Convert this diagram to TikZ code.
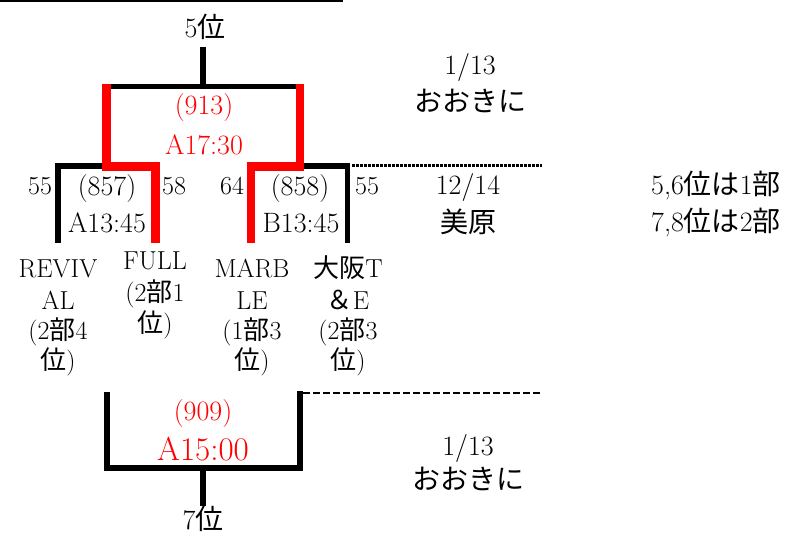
\documentclass[tikz,border=0pt]{standalone}
\usepackage{fontspec}
\newfontfamily\jpf{Noto Sans CJK JP}
\newcommand\jp[1]{{\jpf #1}}
\definecolor{bred}{RGB}{255,0,0}
\tikzset{
  txt/.style={inner sep=0pt, anchor=base, font=\fontsize{28}{30}\selectfont},
  small/.style={txt, font=\fontsize{26}{28}\selectfont},
  team/.style={txt, font=\fontsize{26}{28}\selectfont},
  redtxt/.style={txt, text=bred, font=\fontsize{28}{30}\selectfont},
  bline/.style={line width=5.5pt, black, line join=miter},
  rline/.style={line width=8.5pt, bred, line join=miter},
  dotline/.style={line width=3pt, dash pattern=on 2.5pt off 1.5pt},
  dashline/.style={line width=2.5pt, dash pattern=on 7pt off 3pt}
}
\begin{document}
\begin{tikzpicture}[x=1pt,y=-1pt]
\useasboundingbox (0,0) rectangle (800,534);
% top rule
\coordinate (r0) at (0,1);
\coordinate (r1) at (343,1);
\draw[line width=2pt] (r0) -- (r1);

% coordinates of the bracket
\coordinate (s1) at (203,47);
\coordinate (s2) at (203,87);
\coordinate (tl) at (106.5,86.5);
\coordinate (tr) at (300,86.5);
\coordinate (lbot) at (58,243);
\coordinate (lcor) at (58,166);
\coordinate (lmid) at (104,166);
\coordinate (rmid) at (302,166);
\coordinate (rcor) at (347.5,166);
\coordinate (rbot) at (347.5,243);

\draw[bline] (s1) -- (s2);
\draw[bline] (tl) -- (tr);
\draw[bline] (lbot) -- (lcor) -- (lmid);
\draw[bline] (rmid) -- (rcor) -- (rbot);

% red winner paths
\coordinate (ra1) at (106.7,84);
\coordinate (ra2) at (106.7,166.3);
\coordinate (ra3) at (155.5,166.3);
\coordinate (ra4) at (155.5,243);
\coordinate (rb1) at (300,84);
\coordinate (rb2) at (300,166.3);
\coordinate (rb3) at (251,166.3);
\coordinate (rb4) at (251,243);
\draw[rline] (ra1) -- (ra2) -- (ra3) -- (ra4);
\draw[rline] (rb1) -- (rb2) -- (rb3) -- (rb4);

% dotted line
\coordinate (d1) at (352,166);
\coordinate (d2) at (542,166);
\draw[dotline] (d1) -- (d2);

% bottom bracket
\coordinate (b1) at (107,392);
\coordinate (b2) at (107,468);
\coordinate (b3) at (300,468);
\coordinate (b4) at (300,391);
\coordinate (bs1) at (203,468);
\coordinate (bs2) at (203,506);
\draw[bline] (b1) -- (b2) -- (b3) -- (b4);
\draw[bline] (bs1) -- (bs2);
\coordinate (e1) at (303,393);
\coordinate (e2) at (542,393);
\draw[dashline] (e1) -- (e2);

% texts
\node[txt] (p5) at (205,38) {5\jp{位}};
\node[redtxt] (m913) at (204,115) {(913)};
\node[redtxt] (t913) at (204,155) {A17:30};
\node[txt] (d1a) at (470,75) {1/13};
\node[txt] (d1b) at (470,112) {\jp{おおきに}};

\node[small] (s55a) at (40,195) {55};
\node[txt] (m857) at (107,196) {(857)};
\node[small] (s58) at (174,195) {58};
\node[txt] (t857) at (107,233) {A13:45};
\node[small] (s64) at (232,195) {64};
\node[txt] (m858) at (300,196) {(858)};
\node[small] (s55b) at (367,195) {55};
\node[txt] (t858) at (301,233) {B13:45};

\node[txt] (d2a) at (468,195) {12/14};
\node[txt] (d2b) at (468,233) {\jp{美原}};
\node[txt] (n1) at (716,195) {5,6\jp{位は}1\jp{部}};
\node[txt] (n2) at (716,232) {7,8\jp{位は}2\jp{部}};

% teams
\node[team] (ta1) at (58,278) {REVIV};
\node[team] (ta2) at (58,310) {AL};
\node[team] (ta3) at (58,340) {(2\jp{部}4};
\node[team] (ta4) at (58,370) {\jp{位})};

\node[team] (tb1) at (155,270) {FULL};
\node[team] (tb2) at (155,302) {(2\jp{部}1};
\node[team] (tb3) at (155,333) {\jp{位})};

\node[team] (tc1) at (252,278) {MARB};
\node[team] (tc2) at (252,310) {LE};
\node[team] (tc3) at (252,340) {(1\jp{部}3};
\node[team] (tc4) at (252,370) {\jp{位})};

\node[team] (td1) at (348,278) {\jp{大阪}T};
\node[team] (td2) at (348,310) {\jp{＆}E};
\node[team] (td3) at (348,340) {(2\jp{部}3};
\node[team] (td4) at (348,370) {\jp{位})};

% bottom
\node[redtxt] (m909) at (203,420) {(909)};
\node[redtxt, font=\fontsize{33}{35}\selectfont] (t909) at (203,460) {A15:00};
\node[txt] (p7) at (203,529) {7\jp{位}};
\node[txt] (d3a) at (468,455) {1/13};
\node[txt] (d3b) at (468,489) {\jp{おおきに}};
\end{tikzpicture}
\end{document}
